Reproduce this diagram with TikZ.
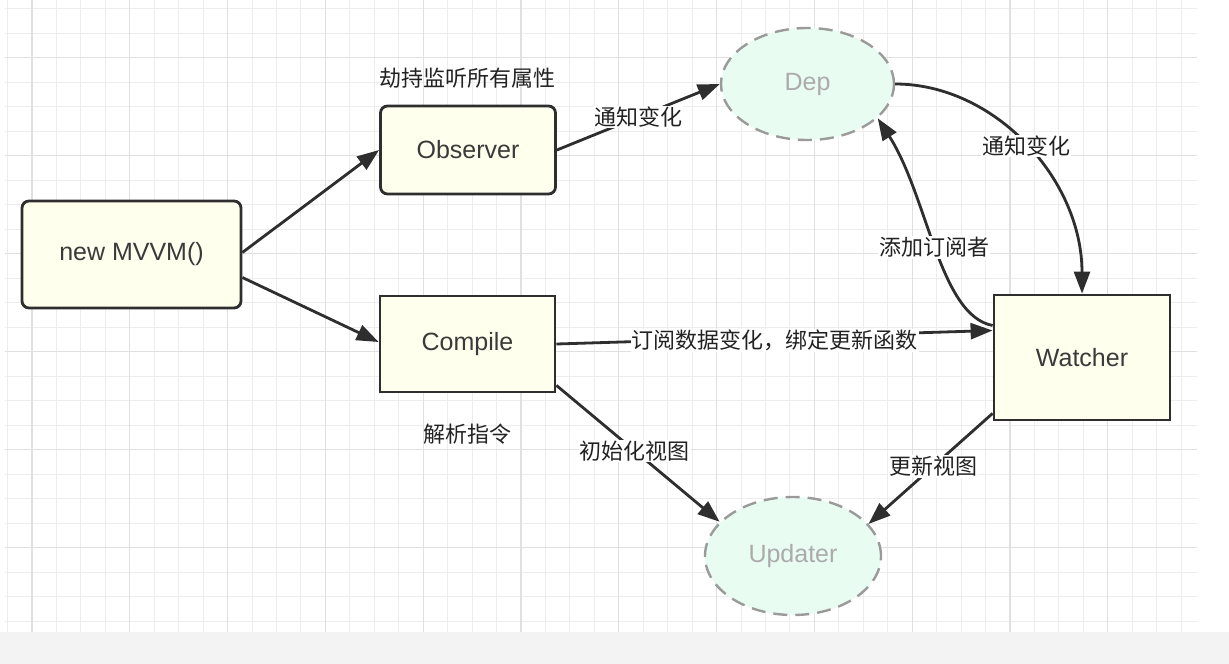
\documentclass[tikz,border=0pt]{standalone}
\usepackage{fontspec}
\setmainfont{Liberation Sans}
\newfontfamily\cjk{Noto Sans CJK SC}
\usetikzlibrary{arrows.meta,shapes.geometric,calc}
\definecolor{boxfill}{HTML}{FFFFEE}
\definecolor{boxline}{HTML}{2E2E2E}
\definecolor{txt}{HTML}{3A3A3A}
\definecolor{mint}{HTML}{E9FCF2}
\definecolor{dashc}{HTML}{9A9A9A}
\definecolor{ghost}{HTML}{ABABAB}
\definecolor{gridminor}{HTML}{EDEDED}
\definecolor{gridmajor}{HTML}{E0E0E0}
\definecolor{band}{HTML}{F3F3F3}
\definecolor{labtxt}{HTML}{222222}
\begin{document}
\begin{tikzpicture}[x=1pt,y=-1pt,
  box/.style={draw=boxline, line width=2.8pt, fill=boxfill, text=txt,
    font=\fontsize{25}{30}\selectfont, inner sep=0pt},
  ghostell/.style={ellipse, draw=dashc, line width=2.4pt, dash pattern=on 14pt off 8pt,
    fill=mint, text=ghost, font=\fontsize{25}{30}\selectfont, inner sep=0pt},
  conn/.style={draw=boxline, line width=2.8pt, -{Triangle[length=22pt,width=16pt]}},
  lab/.style={font=\cjk\fontsize{22}{26}\selectfont, text=labtxt, fill=white, inner sep=1pt},
  freelab/.style={font=\cjk\fontsize{22}{26}\selectfont, text=labtxt, inner sep=0pt}]
\useasboundingbox (0,0) rectangle (1229,664);
\fill[white] (0,0) rectangle (1229,664);
\fill[band] (0,632) rectangle (1229,664);
\begin{scope}
  \clip (5,0) rectangle (1197,632);
  \foreach \k in {-1,...,48} {
    \pgfmathsetmacro\xx{32+24.45*\k}
    \draw[gridminor, line width=1pt] (\xx,0) -- (\xx,632);
  }
  \foreach \k in {0,...,26} {
    \pgfmathsetmacro\yy{8.5+24.5*\k}
    \draw[gridminor, line width=1pt] (5,\yy) -- (1197,\yy);
  }
  \foreach \k in {0,4,...,44} {
    \pgfmathsetmacro\xx{32+24.45*\k}
    \draw[gridmajor, line width=1.2pt] (\xx,0) -- (\xx,632);
  }
  \foreach \k in {2,6,...,26} {
    \pgfmathsetmacro\yy{8.5+24.5*\k}
    \draw[gridmajor, line width=1.2pt] (5,\yy) -- (1197,\yy);
  }
\end{scope}

\node[box, rounded corners=7pt, minimum width=219pt, minimum height=107pt] (mvvm) at (131.5,254.5) {new MVVM()};
\node[box, rounded corners=7pt, minimum width=175pt, minimum height=88pt] (obs) at (468,150) {Observer};
\node[box, minimum width=175pt, minimum height=96pt] (comp) at (467.5,344) {Compile};
\node[box, minimum width=176pt, minimum height=125pt] (wat) at (1082,357.5) {Watcher};
\node[ghostell, minimum width=173pt, minimum height=112pt] (dep) at (807.5,84) {Dep};
\node[ghostell, minimum width=176pt, minimum height=118pt] (upd) at (793,556) {Updater};

\node[freelab] (hijack) at (467,78) {劫持监听所有属性};
\node[freelab] (parse) at (467.5,434) {解析指令};

\draw[conn] ([yshift=2pt]mvvm.east) -- (obs.west);
\draw[conn] ([yshift=-23pt]mvvm.east) -- ([yshift=2pt]comp.west);
\draw[conn] (obs.east) -- node[lab, pos=0.5] (l1) {通知变化} (dep.west);
\draw[conn] (dep.east) .. controls +(100,0) and +(0,-114) .. node[lab, pos=0.5] (l2) {通知变化} (wat.north);
\draw[conn] ([yshift=32pt]wat.west) .. controls +(-53,-10) and +(50,78) .. node[lab, pos=0.5] (l3) {添加订阅者} (dep.-26);
\draw[conn] (comp.east) -- node[lab, pos=0.5, yshift=-3pt] (l4) {订阅数据变化，绑定更新函数} ([yshift=27pt]wat.west);
\draw[conn] ([yshift=8pt]comp.south east) -- node[lab, pos=0.48] (l5) {初始化视图} (upd.155);
\draw[conn] ([yshift=8pt]wat.south west) -- node[lab, pos=0.48] (l6) {更新视图} (upd.23);
\end{tikzpicture}
\end{document}
